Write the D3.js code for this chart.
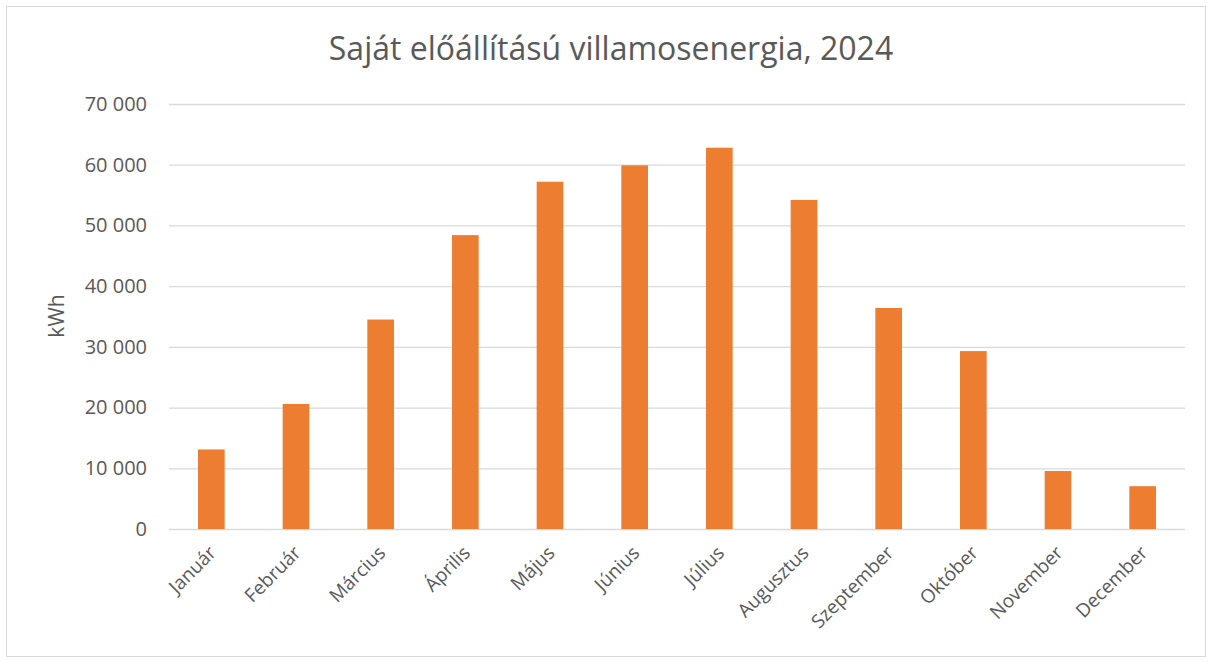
<!DOCTYPE html>
<html>
<head>
<meta charset="utf-8">
<script src="https://cdn.jsdelivr.net/npm/d3@7"></script>
<style>
  body { margin: 0; background: #fff; }
  svg text { font-family: "Open Sans", "Noto Sans", sans-serif; fill: #595959; }
</style>
</head>
<body>
<div id="chart"></div>
<script>
// monthly own-generated electricity, kWh
const months = ["Január", "Február", "Március", "Április", "Május", "Június",
  "Július", "Augusztus", "Szeptember", "Október", "November", "December"];
const values = [13100, 20600, 34500, 48400, 57200, 59900, 62800, 54200, 36400, 29300, 9550, 7050];
const yTicks = [0, 10000, 20000, 30000, 40000, 50000, 60000, 70000];

const W = 1212, H = 662;
const margin = { top: 104, right: 27, bottom: 133, left: 169 };
const width = W - margin.left - margin.right;
const height = H - margin.top - margin.bottom;

const svg = d3.select("#chart").append("svg")
  .attr("width", W)
  .attr("height", H);

// outer chart frame
svg.append("rect")
  .attr("x", 6.5).attr("y", 6.5)
  .attr("width", W - 13).attr("height", H - 12)
  .attr("fill", "#fff")
  .attr("stroke", "#d9d9d9");

svg.append("text")
  .attr("x", 611)
  .attr("y", 60)
  .attr("text-anchor", "middle")
  .style("font-size", "32px")
  .text("Saját előállítású villamosenergia, 2024");

const g = svg.append("g")
  .attr("transform", `translate(${margin.left},${margin.top})`);

const x = d3.scaleBand()
  .domain(months)
  .range([0, width])
  .paddingInner(0.685)
  .paddingOuter(0.3425);

const y = d3.scaleLinear()
  .domain([0, 70000])
  .range([height, 0]);

const fmt = v => d3.format(",")(v).replace(/,/g, " ");

// gridlines + y labels
const yAxis = g.append("g")
  .call(d3.axisLeft(y).tickValues(yTicks).tickSize(-width).tickFormat(fmt).tickPadding(22));
yAxis.select(".domain").remove();
yAxis.selectAll(".tick line").attr("stroke", "#d9d9d9").attr("stroke-width", 1.3);
yAxis.selectAll(".tick text").style("font-size", "20px").attr("fill", "#595959");

g.selectAll("rect.bar")
  .data(values)
  .enter()
  .append("rect")
  .attr("class", "bar")
  .attr("x", (d, i) => x(months[i]))
  .attr("y", d => y(d))
  .attr("width", x.bandwidth())
  .attr("height", d => height - y(d))
  .attr("fill", "#ed7d31");

// x labels, rotated
const xAxis = g.append("g")
  .attr("transform", `translate(0,${height})`)
  .call(d3.axisBottom(x).tickSize(0).tickPadding(0));
xAxis.select(".domain").remove();
xAxis.selectAll(".tick text")
  .style("font-size", "19px")
  .attr("text-anchor", "end")
  .attr("dy", 0)
  .attr("transform", "translate(6,25) rotate(-45)");

// y axis title
svg.append("text")
  .attr("transform", "translate(64,316) rotate(-90)")
  .attr("text-anchor", "middle")
  .style("font-size", "21px")
  .text("kWh");
</script>
</body>
</html>
